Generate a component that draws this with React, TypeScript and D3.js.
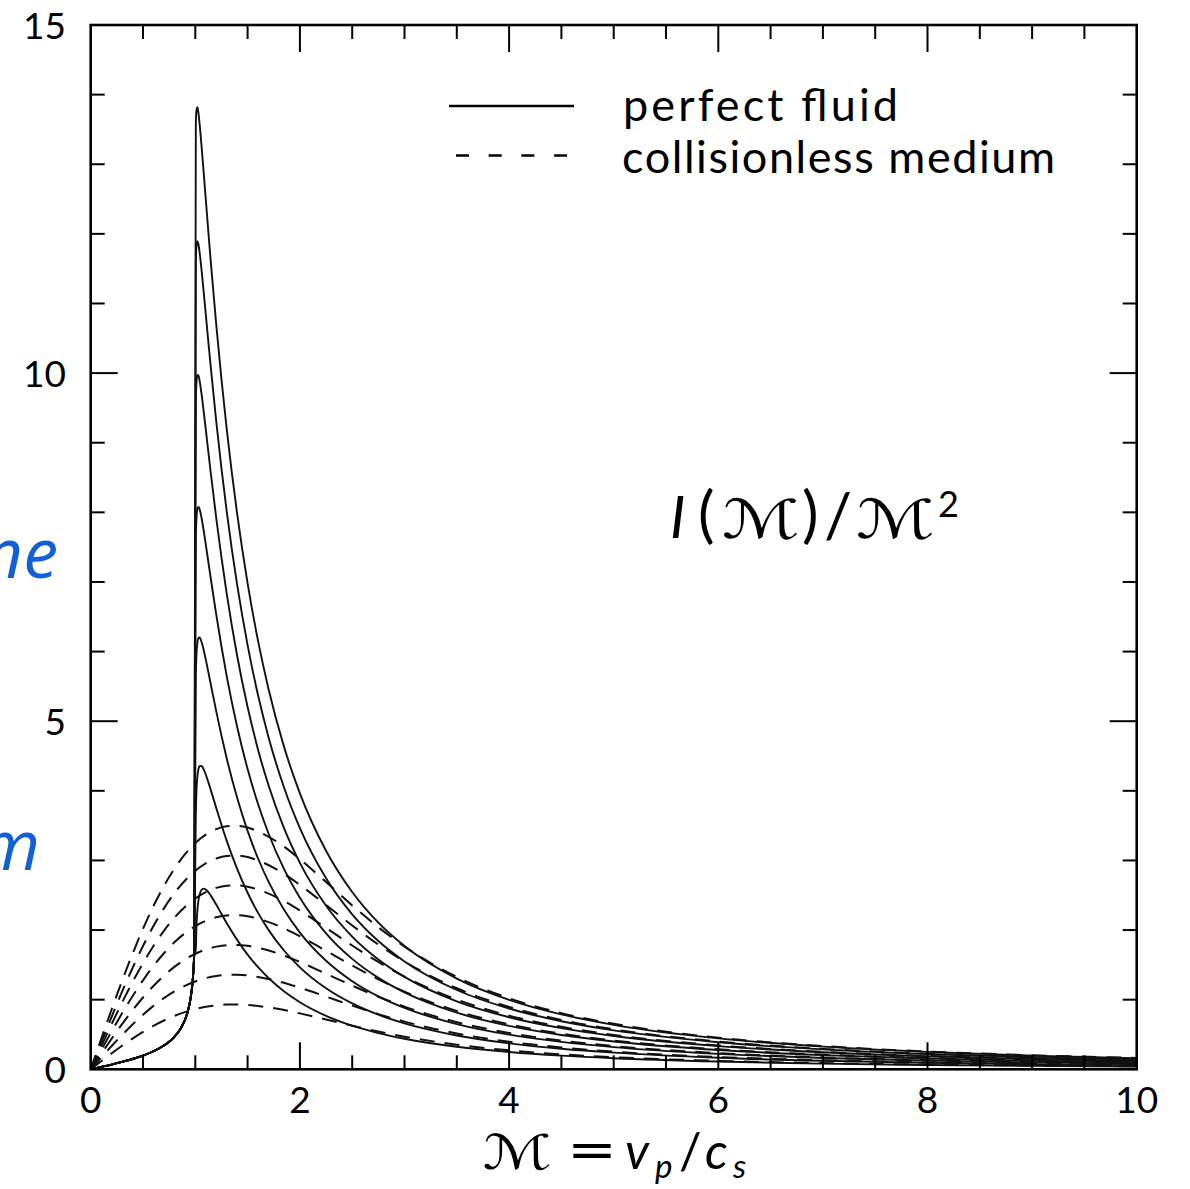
import React from 'react';
import * as d3 from 'd3';

const W = 1190;
const H = 1189;

// Mach numbers for the subsonic branch (shared by all perfect-fluid curves)
const machSub = [0, 0.1, 0.2, 0.3, 0.4, 0.5, 0.6, 0.7, 0.75, 0.8, 0.85, 0.9, 0.93, 0.95, 0.97, 0.98, 0.99];
const fluidSub = [0, 0.034, 0.068, 0.106, 0.148, 0.197, 0.259, 0.341, 0.396, 0.467, 0.562, 0.706, 0.842, 0.977, 1.193, 1.372, 1.69];

// Mach numbers for the supersonic branch
const machSup = [1.005, 1.01, 1.02, 1.03, 1.04, 1.06, 1.08, 1.1, 1.13, 1.15, 1.2, 1.25, 1.3, 1.4, 1.5, 1.6, 1.7, 1.85, 2, 2.25, 2.5, 2.75, 3, 3.5, 4, 4.5, 5, 6, 7, 8, 9, 10];
const fluidA = [1.677, 1.996, 2.283, 2.424, 2.504, 2.578, 2.595, 2.582, 2.534, 2.491, 2.366, 2.233, 2.102, 1.859, 1.647, 1.466, 1.311, 1.118, 0.964, 0.768, 0.626, 0.52, 0.438, 0.323, 0.248, 0.196, 0.159, 0.111, 0.081, 0.062, 0.049, 0.04];
const fluidB = [3.657, 3.957, 4.206, 4.309, 4.353, 4.358, 4.309, 4.235, 4.1, 4.003, 3.755, 3.513, 3.285, 2.879, 2.536, 2.247, 2.003, 1.703, 1.464, 1.163, 0.946, 0.784, 0.66, 0.486, 0.373, 0.295, 0.239, 0.166, 0.122, 0.094, 0.074, 0.06];
const fluidC = [5.637, 5.918, 6.128, 6.194, 6.202, 6.138, 6.024, 5.888, 5.667, 5.516, 5.144, 4.793, 4.469, 3.9, 3.425, 3.028, 2.695, 2.287, 1.964, 1.559, 1.266, 1.048, 0.882, 0.65, 0.498, 0.394, 0.319, 0.222, 0.163, 0.125, 0.099, 0.08];
const fluidD = [7.617, 7.878, 8.051, 8.079, 8.051, 7.918, 7.739, 7.541, 7.233, 7.028, 6.533, 6.073, 5.652, 4.92, 4.314, 3.81, 3.387, 2.871, 2.464, 1.954, 1.586, 1.313, 1.105, 0.813, 0.623, 0.493, 0.399, 0.277, 0.204, 0.156, 0.123, 0.1];
const fluidE = [9.597, 9.839, 9.973, 9.964, 9.9, 9.698, 9.453, 9.194, 8.799, 8.54, 7.922, 7.353, 6.836, 5.94, 5.203, 4.591, 4.079, 3.456, 2.964, 2.349, 1.906, 1.577, 1.327, 0.976, 0.748, 0.591, 0.479, 0.333, 0.245, 0.187, 0.148, 0.12];
const fluidF = [11.578, 11.799, 11.895, 11.85, 11.749, 11.478, 11.168, 10.847, 10.366, 10.053, 9.311, 8.633, 8.019, 6.961, 6.092, 5.372, 4.771, 4.04, 3.464, 2.744, 2.226, 1.842, 1.549, 1.139, 0.873, 0.69, 0.559, 0.389, 0.286, 0.219, 0.173, 0.14];
const fluidG = [13.558, 13.76, 13.818, 13.735, 13.598, 13.258, 12.883, 12.5, 11.932, 11.565, 10.699, 9.913, 9.203, 7.981, 6.981, 6.153, 5.463, 4.624, 3.964, 3.139, 2.546, 2.106, 1.771, 1.303, 0.998, 0.789, 0.639, 0.444, 0.326, 0.25, 0.197, 0.16];

// Collisionless medium curves
const machCL = [0, 0.1, 0.2, 0.3, 0.4, 0.5, 0.6, 0.7, 0.8, 0.9, 1.0, 1.1, 1.2, 1.3, 1.4, 1.5, 1.6, 1.8, 2, 2.25, 2.5, 2.75, 3, 3.5, 4, 4.5, 5, 6, 7, 8, 9, 10];
const collA = [0, 0.115, 0.229, 0.338, 0.441, 0.537, 0.624, 0.701, 0.767, 0.821, 0.865, 0.897, 0.918, 0.929, 0.93, 0.924, 0.909, 0.865, 0.803, 0.716, 0.626, 0.543, 0.469, 0.353, 0.272, 0.215, 0.174, 0.121, 0.089, 0.068, 0.054, 0.044];
const collB = [0, 0.168, 0.334, 0.493, 0.644, 0.784, 0.911, 1.023, 1.119, 1.199, 1.262, 1.309, 1.34, 1.356, 1.358, 1.349, 1.327, 1.262, 1.172, 1.045, 0.914, 0.793, 0.685, 0.515, 0.396, 0.314, 0.254, 0.176, 0.13, 0.099, 0.078, 0.064];
const collC = [0, 0.221, 0.439, 0.649, 0.847, 1.031, 1.197, 1.345, 1.471, 1.576, 1.66, 1.721, 1.762, 1.783, 1.786, 1.773, 1.745, 1.659, 1.542, 1.373, 1.202, 1.042, 0.901, 0.677, 0.521, 0.412, 0.334, 0.232, 0.17, 0.13, 0.103, 0.084];
const collD = [0, 0.274, 0.544, 0.804, 1.05, 1.278, 1.484, 1.667, 1.824, 1.954, 2.057, 2.133, 2.184, 2.21, 2.214, 2.198, 2.163, 2.057, 1.911, 1.702, 1.49, 1.292, 1.116, 0.839, 0.646, 0.511, 0.414, 0.287, 0.211, 0.162, 0.128, 0.104];
const collE = [0, 0.327, 0.649, 0.959, 1.253, 1.524, 1.771, 1.989, 2.176, 2.332, 2.455, 2.545, 2.606, 2.637, 2.642, 2.623, 2.581, 2.454, 2.28, 2.031, 1.778, 1.542, 1.332, 1.002, 0.771, 0.61, 0.494, 0.343, 0.252, 0.193, 0.152, 0.124];
const collF = [0, 0.381, 0.754, 1.115, 1.455, 1.771, 2.058, 2.311, 2.529, 2.709, 2.852, 2.958, 3.028, 3.064, 3.07, 3.048, 2.999, 2.852, 2.649, 2.36, 2.066, 1.791, 1.548, 1.164, 0.896, 0.709, 0.574, 0.399, 0.293, 0.224, 0.177, 0.144];
const collG = [0, 0.434, 0.859, 1.27, 1.658, 2.018, 2.345, 2.633, 2.881, 3.087, 3.25, 3.37, 3.45, 3.491, 3.497, 3.472, 3.417, 3.249, 3.019, 2.689, 2.354, 2.041, 1.763, 1.326, 1.021, 0.807, 0.654, 0.454, 0.334, 0.255, 0.202, 0.164];

const xTickLabels = [0, 2, 4, 6, 8, 10];
const yTickLabels = [0, 5, 10, 15];
const legendLabels = ['perfect fluid', 'collisionless medium'];

const TEXT = "Lato, 'Liberation Sans', sans-serif";
const MATH = "'DejaVu Sans', sans-serif";

export default function App() {
  const L = 90.7, R = 1136.7, T = 25, B = 1069.3;
  const x = d3.scaleLinear().domain([0, 10]).range([L, R]);
  const y = d3.scaleLinear().domain([0, 15]).range([B, T]);
  const line = d3
    .line<[number, number]>()
    .x((d) => x(d[0]))
    .y((d) => y(d[1]))
    .curve(d3.curveMonotoneX);

  const fluidSets = [fluidA, fluidB, fluidC, fluidD, fluidE, fluidF, fluidG];
  const fluidCurves = fluidSets.map((sup) => [
    ...machSub.map((m, i) => [m, fluidSub[i]] as [number, number]),
    ...machSup.map((m, i) => [m, sup[i]] as [number, number]),
  ]);
  const collSets = [collA, collB, collC, collD, collE, collF, collG];
  const collCurves = collSets.map((arr) => machCL.map((m, i) => [m, arr[i]] as [number, number]));

  const xTicks = d3.range(1, 20).map((i) => ({ v: i * 0.5, major: i % 4 === 0 }));
  const yTicks = d3.range(1, 15).map((i) => ({ v: i, major: i % 5 === 0 }));
  const minorLen = 14;
  const majorLen = 27;
  const ink = '#111';

  return (
    <svg
      width={W}
      height={H}
      viewBox={`0 0 ${W} ${H}`}
      style={{ position: 'absolute', left: 0, top: 0, background: '#fff' }}
    >
      <rect x={0} y={0} width={W} height={H} fill="#fff" />
      {/* partial blue slide text at the left edge, cut as in the reference */}
      <text x={58} y={578} textAnchor="end" fontFamily="'Open Sans', 'Noto Sans', sans-serif" fontStyle="italic" fontSize={70} fill="#1160d6">ne</text>
      <text x={40} y={870} textAnchor="end" fontFamily="'Open Sans', 'Noto Sans', sans-serif" fontStyle="italic" fontSize={70} fill="#1160d6">m</text>

      <defs>
        <clipPath id="plotClip">
          <rect x={L} y={T} width={R - L} height={B - T} />
        </clipPath>
      </defs>

      <g clipPath="url(#plotClip)" fill="none">
        {collCurves.map((c, i) => (
          <path key={'c' + i} d={line(c) || ''} stroke={ink} strokeWidth={2} strokeDasharray="15 10" />
        ))}
        {fluidCurves.map((c, i) => (
          <path key={'f' + i} d={line(c) || ''} stroke={ink} strokeWidth={1.9} strokeLinejoin="round" />
        ))}
      </g>

      <rect x={L} y={T} width={R - L} height={B - T} fill="none" stroke="#000" strokeWidth={2.6} />

      <g stroke="#000" strokeWidth={2}>
        {xTicks.map((t) => {
          const len = t.major ? majorLen : minorLen;
          return (
            <g key={'xt' + t.v}>
              <line x1={x(t.v)} x2={x(t.v)} y1={B} y2={B - len} />
              <line x1={x(t.v)} x2={x(t.v)} y1={T} y2={T + len} />
            </g>
          );
        })}
        {yTicks.map((t) => {
          const len = t.major ? majorLen : minorLen;
          return (
            <g key={'yt' + t.v}>
              <line x1={L} x2={L + len} y1={y(t.v)} y2={y(t.v)} />
              <line x1={R} x2={R - len} y1={y(t.v)} y2={y(t.v)} />
            </g>
          );
        })}
      </g>

      <g fontSize={37} fill="#000" fontFamily={TEXT}>
        {xTickLabels.map((v) => (
          <text key={'xl' + v} x={x(v)} y={1113} textAnchor="middle">{v}</text>
        ))}
        {yTickLabels.map((v) => (
          <text key={'yl' + v} x={66} y={y(v) + 13.5} textAnchor="end">{v}</text>
        ))}
      </g>

      <line x1={449} x2={574} y1={106} y2={106} stroke="#000" strokeWidth={2.6} />
      <line x1={456} x2={567} y1={155.5} y2={155.5} stroke="#000" strokeWidth={2.6} strokeDasharray="13 19.7" />
      <text x={623} y={121} fontFamily={TEXT} fontSize={45} textLength={275} lengthAdjust="spacing" fill="#000">{legendLabels[0]}</text>
      <text x={622} y={173} fontFamily={TEXT} fontSize={45} textLength={433} lengthAdjust="spacing" fill="#000">{legendLabels[1]}</text>

      <g fill="#000" fontFamily={TEXT}>
        <text x={670} y={538} fontStyle="italic" fontSize={58}>I</text>
        <text x={698} y={536} fontSize={62}>(</text>
        <text x={722} y={538} fontFamily={MATH} fontSize={54} textLength={78} lengthAdjust="spacingAndGlyphs">ℳ</text>
        <text x={802} y={536} fontSize={62}>)</text>
        <text x={824} y={538} fontSize={62}>/</text>
        <text x={856} y={538} fontFamily={MATH} fontSize={54} textLength={79} lengthAdjust="spacingAndGlyphs">ℳ</text>
        <text x={938} y={517} fontSize={36}>2</text>
      </g>

      <g fill="#000" fontFamily={TEXT}>
        <text x={483} y={1169} fontFamily={MATH} fontSize={48} textLength={69} lengthAdjust="spacingAndGlyphs">ℳ</text>
        <text x={567} y={1167} fontFamily={MATH} fontSize={50} textLength={50} lengthAdjust="spacingAndGlyphs">=</text>
        <text x={625} y={1169} fontStyle="italic" fontSize={50}>v</text>
        <text x={655} y={1178} fontStyle="italic" fontSize={33}>p</text>
        <text x={679} y={1169} fontSize={50}>/</text>
        <text x={705} y={1169} fontStyle="italic" fontSize={50}>c</text>
        <text x={733} y={1178} fontStyle="italic" fontSize={33}>s</text>
      </g>
    </svg>
  );
}
